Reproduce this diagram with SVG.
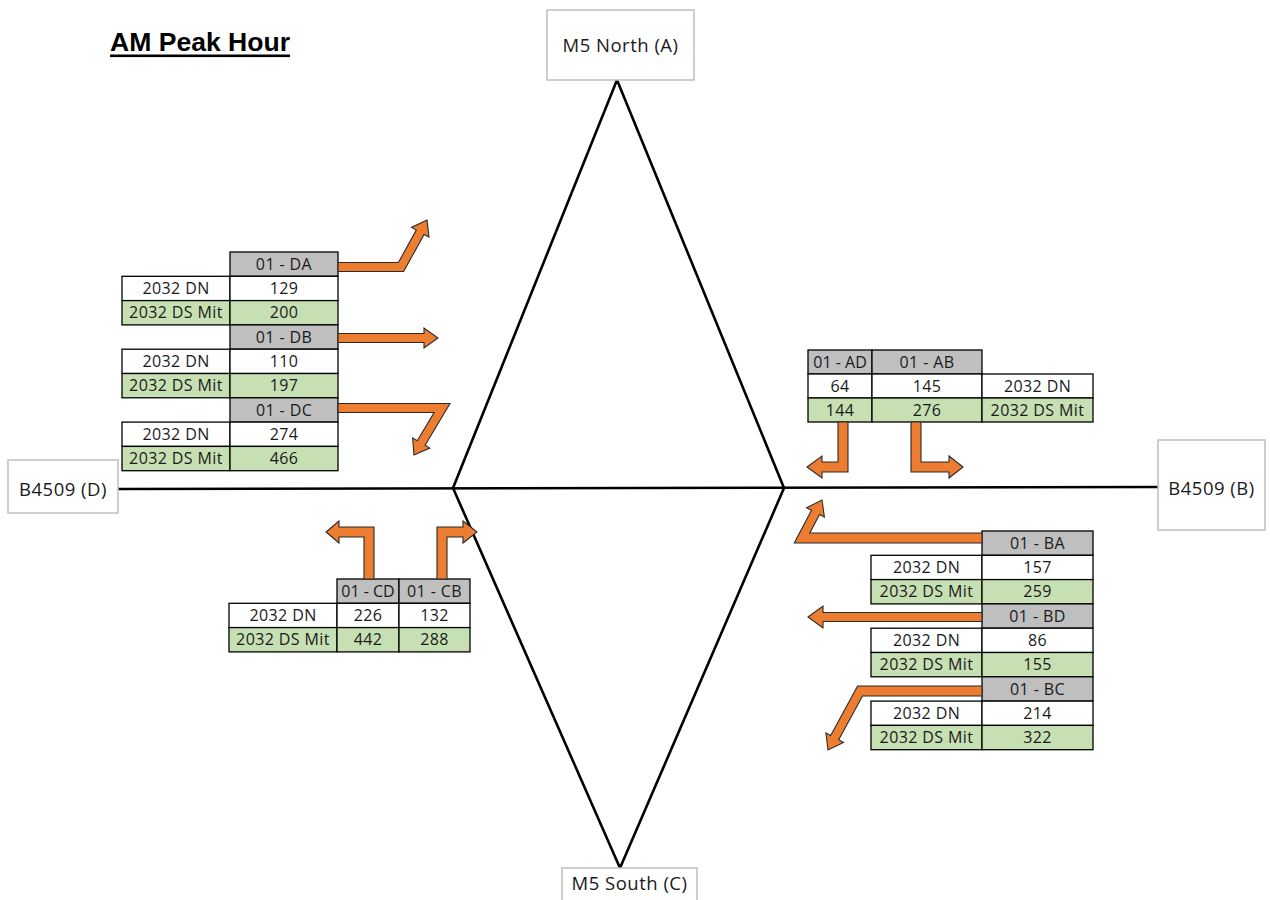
<svg xmlns="http://www.w3.org/2000/svg" width="1270" height="900" viewBox="0 0 1270 900">
<style>
.bg{fill:#fff}
.node rect{fill:#fff;stroke:#bfbfbf;stroke-width:1.5}
.node text{font-family:"Open Sans","Noto Sans",sans-serif;font-size:18.5px;letter-spacing:0.5px;fill:#1a1a1a;text-anchor:middle}
.road{stroke:#000;stroke-width:2.6;fill:none;stroke-linecap:round;stroke-linejoin:round}
.hd{fill:#bfbfbf;stroke:#000;stroke-width:1.3}
.wt{fill:#fff;stroke:#000;stroke-width:1.3}
.gr{fill:#c6e0b4;stroke:#000;stroke-width:1.3}
.t{font-family:"Open Sans","Noto Sans",sans-serif;font-size:16px;letter-spacing:0.4px;fill:#1a1a1a;text-anchor:middle}
.arr{fill:#ed7d31;stroke:#2b2b2b;stroke-width:1.1;stroke-linejoin:miter}
.title{font-family:"Liberation Sans",Arial,sans-serif;font-size:26px;font-weight:bold;fill:#000}
</style>
<rect class="bg" x="0" y="0" width="1270" height="900"/>

<g id="title">
<text class="title" x="110" y="51" textLength="180" lengthAdjust="spacingAndGlyphs">AM Peak Hour</text>
<rect x="110" y="54.5" width="180" height="2.6" fill="#000"/>
</g>

<g id="connectors">
<line class="road" x1="118" y1="489" x2="1158" y2="487"/>
<polyline class="road" points="453,488 617,80 784,488"/>
<polyline class="road" points="453,488 620,868 784,488"/>
</g>

<g id="node-A" class="node">
<rect x="547" y="10" width="147" height="70"/>
<text x="620.5" y="52">M5 North (A)</text>
</g>
<g id="node-D" class="node">
<rect x="8" y="460" width="110" height="53"/>
<text x="63" y="496">B4509 (D)</text>
</g>
<g id="node-B" class="node">
<rect x="1158" y="440" width="107" height="90"/>
<text x="1211.5" y="495">B4509 (B)</text>
</g>
<g id="node-C" class="node">
<rect x="562" y="868" width="135" height="40"/>
<text x="629.5" y="890">M5 South (C)</text>
</g>

<g id="table-D">
<rect class="hd" x="230" y="252" width="108" height="24.3"/>
<rect class="wt" x="122" y="276.3" width="108" height="24.3"/>
<rect class="wt" x="230" y="276.3" width="108" height="24.3"/>
<rect class="gr" x="122" y="300.6" width="108" height="24.3"/>
<rect class="gr" x="230" y="300.6" width="108" height="24.3"/>
<rect class="hd" x="230" y="324.9" width="108" height="24.3"/>
<rect class="wt" x="122" y="349.2" width="108" height="24.3"/>
<rect class="wt" x="230" y="349.2" width="108" height="24.3"/>
<rect class="gr" x="122" y="373.5" width="108" height="24.3"/>
<rect class="gr" x="230" y="373.5" width="108" height="24.3"/>
<rect class="hd" x="230" y="397.8" width="108" height="24.3"/>
<rect class="wt" x="122" y="422.1" width="108" height="24.3"/>
<rect class="wt" x="230" y="422.1" width="108" height="24.3"/>
<rect class="gr" x="122" y="446.4" width="108" height="24.3"/>
<rect class="gr" x="230" y="446.4" width="108" height="24.3"/>
<text class="t" x="284" y="269.8">01 - DA</text>
<text class="t" x="176" y="294.1">2032 DN</text>
<text class="t" x="284" y="294.1">129</text>
<text class="t" x="176" y="318.4">2032 DS Mit</text>
<text class="t" x="284" y="318.4">200</text>
<text class="t" x="284" y="342.7">01 - DB</text>
<text class="t" x="176" y="367">2032 DN</text>
<text class="t" x="284" y="367">110</text>
<text class="t" x="176" y="391.3">2032 DS Mit</text>
<text class="t" x="284" y="391.3">197</text>
<text class="t" x="284" y="415.6">01 - DC</text>
<text class="t" x="176" y="439.9">2032 DN</text>
<text class="t" x="284" y="439.9">274</text>
<text class="t" x="176" y="464.2">2032 DS Mit</text>
<text class="t" x="284" y="464.2">466</text>
</g>

<g id="table-A">
<rect class="hd" x="808" y="350" width="64" height="24"/>
<rect class="hd" x="872" y="350" width="110" height="24"/>
<rect class="wt" x="808" y="374" width="64" height="24"/>
<rect class="wt" x="872" y="374" width="110" height="24"/>
<rect class="wt" x="982" y="374" width="111" height="24"/>
<rect class="gr" x="808" y="398" width="64" height="24"/>
<rect class="gr" x="872" y="398" width="110" height="24"/>
<rect class="gr" x="982" y="398" width="111" height="24"/>
<text class="t" x="840" y="367.8" style="letter-spacing:0">01 - AD</text>
<text class="t" x="927" y="367.8">01 - AB</text>
<text class="t" x="840" y="391.8">64</text>
<text class="t" x="927" y="391.8">145</text>
<text class="t" x="1037.5" y="391.8">2032 DN</text>
<text class="t" x="840" y="415.8">144</text>
<text class="t" x="927" y="415.8">276</text>
<text class="t" x="1037.5" y="415.8">2032 DS Mit</text>
</g>

<g id="table-B">
<rect class="hd" x="982" y="531" width="111" height="24.3"/>
<rect class="wt" x="871" y="555.3" width="111" height="24.3"/>
<rect class="wt" x="982" y="555.3" width="111" height="24.3"/>
<rect class="gr" x="871" y="579.6" width="111" height="24.3"/>
<rect class="gr" x="982" y="579.6" width="111" height="24.3"/>
<rect class="hd" x="982" y="603.9" width="111" height="24.3"/>
<rect class="wt" x="871" y="628.2" width="111" height="24.3"/>
<rect class="wt" x="982" y="628.2" width="111" height="24.3"/>
<rect class="gr" x="871" y="652.5" width="111" height="24.3"/>
<rect class="gr" x="982" y="652.5" width="111" height="24.3"/>
<rect class="hd" x="982" y="676.8" width="111" height="24.3"/>
<rect class="wt" x="871" y="701.1" width="111" height="24.3"/>
<rect class="wt" x="982" y="701.1" width="111" height="24.3"/>
<rect class="gr" x="871" y="725.4" width="111" height="24.3"/>
<rect class="gr" x="982" y="725.4" width="111" height="24.3"/>
<text class="t" x="1037.5" y="548.8">01 - BA</text>
<text class="t" x="926.5" y="573.1">2032 DN</text>
<text class="t" x="1037.5" y="573.1">157</text>
<text class="t" x="926.5" y="597.4">2032 DS Mit</text>
<text class="t" x="1037.5" y="597.4">259</text>
<text class="t" x="1037.5" y="621.7">01 - BD</text>
<text class="t" x="926.5" y="646">2032 DN</text>
<text class="t" x="1037.5" y="646">86</text>
<text class="t" x="926.5" y="670.3">2032 DS Mit</text>
<text class="t" x="1037.5" y="670.3">155</text>
<text class="t" x="1037.5" y="694.6">01 - BC</text>
<text class="t" x="926.5" y="718.9">2032 DN</text>
<text class="t" x="1037.5" y="718.9">214</text>
<text class="t" x="926.5" y="743.2">2032 DS Mit</text>
<text class="t" x="1037.5" y="743.2">322</text>
</g>

<g id="table-C">
<rect class="hd" x="337" y="579" width="62" height="24.3"/>
<rect class="hd" x="399" y="579" width="71" height="24.3"/>
<rect class="wt" x="229" y="603.3" width="108" height="24.3"/>
<rect class="wt" x="337" y="603.3" width="62" height="24.3"/>
<rect class="wt" x="399" y="603.3" width="71" height="24.3"/>
<rect class="gr" x="229" y="627.6" width="108" height="24.3"/>
<rect class="gr" x="337" y="627.6" width="62" height="24.3"/>
<rect class="gr" x="399" y="627.6" width="71" height="24.3"/>
<text class="t" x="368" y="596.8" style="letter-spacing:0">01 - CD</text>
<text class="t" x="434.5" y="596.8">01 - CB</text>
<text class="t" x="283" y="621.1">2032 DN</text>
<text class="t" x="368" y="621.1">226</text>
<text class="t" x="434.5" y="621.1">132</text>
<text class="t" x="283" y="645.4">2032 DS Mit</text>
<text class="t" x="368" y="645.4">442</text>
<text class="t" x="434.5" y="645.4">288</text>
</g>

<g id="turn-arrows">
<polygon id="arrow-DA" class="arr" points="338,262.5 398.4,262.5 416.3,230.1 411.5,227.4 427,220 429,237.1 424.1,234.5 403.6,271.5 338,271.5"/>
<polygon id="arrow-DB" class="arr" points="338,333.5 424,333.5 424,328 438,338 424,348 424,342.5 338,342.5"/>
<polygon id="arrow-DC" class="arr" points="338,403.5 450,403.5 425.1,445.3 429.8,448.1 414,455 412.6,437.9 417.3,440.7 434.1,412.5 338,412.5"/>
<polygon id="arrow-AD" class="arr" points="838,422 848,422 848,472 822,472 822,478 807,467 822,456 822,462 838,462"/>
<polygon id="arrow-AB" class="arr" points="911,422 921,422 921,462 949,462 949,456 963,467 949,478 949,472 911,472"/>
<polygon id="arrow-BA" class="arr" points="982,533 809.8,533 819.5,514.5 824.4,517.1 822,500 806.6,507.7 811.5,510.3 794.3,543 982,543"/>
<polygon id="arrow-BD" class="arr" points="982,612.5 823,612.5 823,606 808,617 823,628 823,621.5 982,621.5"/>
<polygon id="arrow-BC" class="arr" points="982,686 857.6,686 830.7,735.6 825.9,732.9 828,750 843.5,742.5 838.7,739.8 862.5,696 982,696"/>
<polygon id="arrow-CD" class="arr" points="364,579 374,579 374,527 339,527 339,521 326,532 339,543 339,537 364,537"/>
<polygon id="arrow-CB" class="arr" points="437,579 447,579 447,537 463,537 463,543 477,532 463,521 463,527 437,527"/>
</g>
</svg>
